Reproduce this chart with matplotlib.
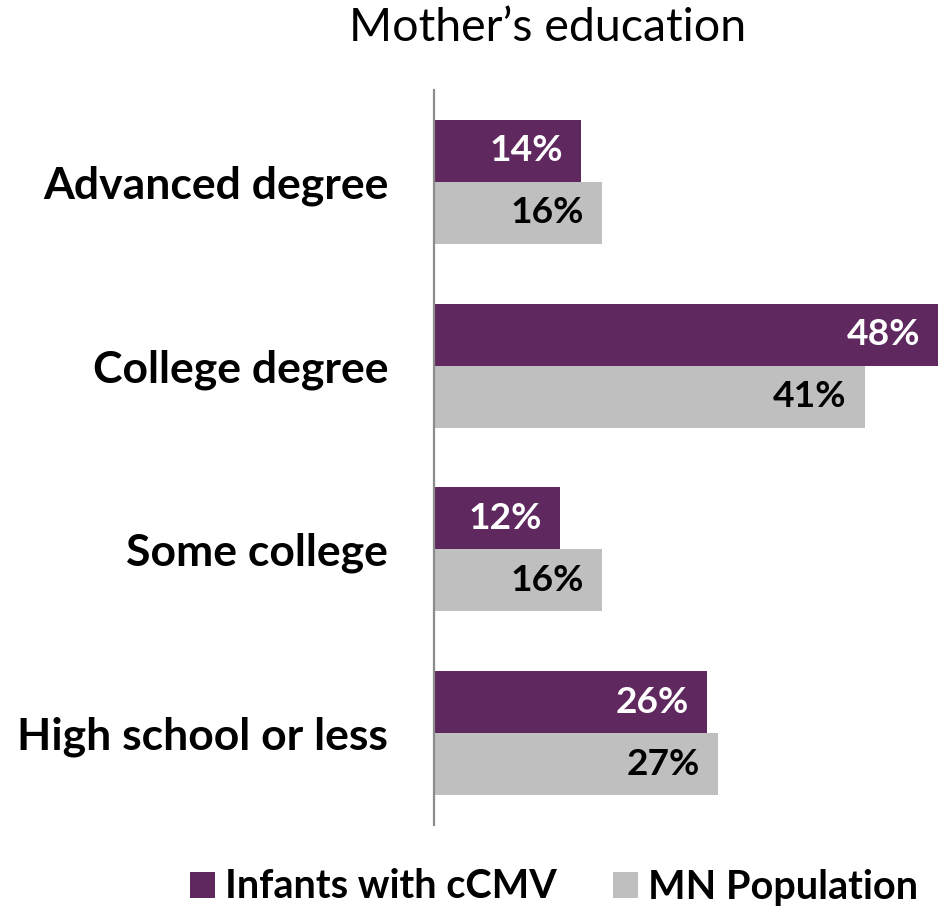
import matplotlib
matplotlib.use("Agg")
import matplotlib.pyplot as plt
import numpy as np

categories = ["Advanced degree", "College degree", "Some college", "High school or less"]
infants_cmv = [14, 48, 12, 26]
mn_population = [16, 41, 16, 27]
series_names = ["Infants with cCMV", "MN Population"]

PURPLE = "#5F285E"
GRAY = "#BFBFBF"
FONT = "Lato"

plt.rcParams["font.family"] = [FONT, "DejaVu Sans"]

fig = plt.figure(figsize=(9.38, 9.07), dpi=100)
ax = fig.add_axes([434 / 938, 82 / 907, 504 / 938, 735 / 907])

y = np.arange(len(categories))
bh = 0.337
b1 = ax.barh(y - bh / 2, infants_cmv, height=bh, color=PURPLE, label=series_names[0])
b2 = ax.barh(y + bh / 2, mn_population, height=bh, color=GRAY, label=series_names[1])

for bars, vals, col in ((b1, infants_cmv, "white"), (b2, mn_population, "black")):
    for rect, v in zip(bars, vals):
        ax.annotate(f"{v}%", xy=(v, rect.get_y() + rect.get_height() / 2),
                    xytext=(-13, 0), textcoords="offset points",
                    ha="right", va="center", color=col,
                    fontsize=26.7, fontweight="bold")

ax.set_xlim(0, 48)
ax.set_ylim(len(categories) - 0.5, -0.5)
ax.set_yticks(y)
ax.set_yticklabels(categories, fontsize=32, fontweight="bold")
ax.tick_params(axis="y", length=0, pad=33)
ax.set_xticks([])
for s in ("top", "right", "bottom"):
    ax.spines[s].set_visible(False)
ax.spines["left"].set_color("#8C8C8C")
ax.spines["left"].set_linewidth(1.6)
ax.spines["left"].set_zorder(3)

fig.text(548 / 938, 1 - 28 / 907, "Mother\u2019s education", ha="center", va="center", fontsize=33.5)

fig.legend(handles=[b1, b2], labels=series_names, loc="center", ncol=2,
           bbox_to_anchor=(554 / 938, 1 - 887 / 907), frameon=False,
           prop={"family": FONT, "weight": "bold", "size": 28.5},
           handlelength=0.63, handleheight=0.63, handletextpad=0.25,
           columnspacing=1.44, borderpad=0, borderaxespad=0)

fig.savefig("out.png", dpi=100)
